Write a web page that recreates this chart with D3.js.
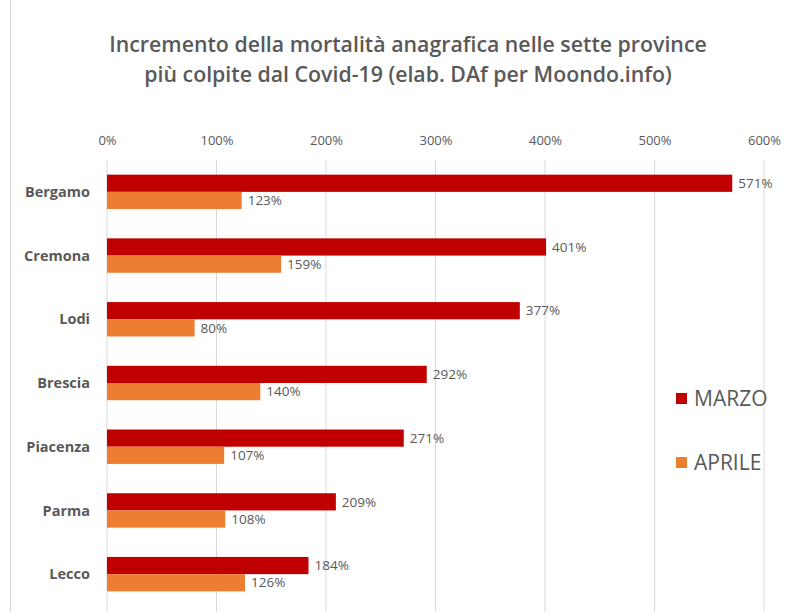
<!DOCTYPE html>
<html>
<head>
<meta charset="utf-8">
<script src="https://cdn.jsdelivr.net/npm/d3@7"></script>
<style>
  body { margin: 0; background: #fff; }
  text { font-family: "Open Sans", "Liberation Sans", sans-serif; fill: #595959; }
</style>
</head>
<body>
<svg id="chart" width="792" height="612"></svg>
<script>
"use strict";

const province = ["Bergamo", "Cremona", "Lodi", "Brescia", "Piacenza", "Parma", "Lecco"];
const marzo = [571, 401, 377, 292, 271, 209, 184];
const aprile = [123, 159, 80, 140, 107, 108, 126];
const tickValues = [0, 100, 200, 300, 400, 500, 600];
const seriesNames = ["MARZO", "APRILE"];
const colors = ["#c00000", "#ed7d31"];

const svg = d3.select("#chart");

// chart frame
svg.append("rect")
    .attr("x", 10.5).attr("y", -5)
    .attr("width", 790).attr("height", 630)
    .attr("fill", "none")
    .attr("stroke", "#d9d9d9");

// title
const title = svg.append("text")
    .attr("text-anchor", "middle")
    .style("font-size", "21.3px")
    .style("font-weight", "600");
title.append("tspan").attr("x", 408).attr("y", 52)
    .text("Incremento della mortalità anagrafica  nelle sette province");
title.append("tspan").attr("x", 408).attr("y", 82)
    .text("più colpite dal Covid-19 (elab. DAf per Moondo.info)");

const x = d3.scaleLinear().domain([0, 600]).range([107, 764]);
const y = d3.scaleBand().domain(province).range([160, 606]).paddingInner(0.46).paddingOuter(0.23);

// gridlines
svg.append("g")
    .selectAll("line")
    .data(tickValues)
    .join("line")
    .attr("x1", d => x(d)).attr("x2", d => x(d))
    .attr("y1", 160).attr("y2", 612)
    .attr("stroke", "#d9d9d9");

// top axis labels
const axis = svg.append("g")
    .attr("transform", "translate(0,145)")
    .call(d3.axisTop(x).tickValues(tickValues).tickFormat(d => d + "%").tickSize(0).tickPadding(0));
axis.select(".domain").remove();
axis.selectAll("text")
    .style("font-size", "13px")
    .attr("fill", "#595959");

const sub = d3.scaleBand().domain(seriesNames).range([0, y.bandwidth()]);

const rows = province.map((p, i) => ({ p, vals: [marzo[i], aprile[i]] }));

const groups = svg.append("g")
    .selectAll("g")
    .data(rows)
    .join("g")
    .attr("transform", d => `translate(0,${y(d.p)})`);

groups.selectAll("rect")
    .data(d => d.vals.map((v, k) => ({ v, k })))
    .join("rect")
    .attr("x", x(0))
    .attr("y", d => sub(seriesNames[d.k]))
    .attr("width", d => x(d.v) - x(0))
    .attr("height", sub.bandwidth())
    .attr("fill", d => colors[d.k]);

groups.selectAll("text.val")
    .data(d => d.vals.map((v, k) => ({ v, k })))
    .join("text")
    .attr("class", "val")
    .attr("x", d => x(d.v) + 6)
    .attr("y", d => sub(seriesNames[d.k]) + sub.bandwidth() / 2)
    .attr("dy", "0.35em")
    .style("font-size", "13.5px")
    .text(d => d.v + "%");

// category labels
svg.append("g")
    .selectAll("text")
    .data(province)
    .join("text")
    .attr("x", 90)
    .attr("y", d => y(d) + y.bandwidth() / 2)
    .attr("dy", "0.35em")
    .attr("text-anchor", "end")
    .style("font-size", "14.5px")
    .style("font-weight", "bold")
    .text(d => d);

// legend
const legend = svg.append("g")
    .selectAll("g")
    .data(seriesNames)
    .join("g")
    .attr("transform", (d, i) => `translate(676,${399 + i * 64})`);
legend.append("rect")
    .attr("x", 0).attr("y", -6)
    .attr("width", 11).attr("height", 11)
    .attr("fill", (d, i) => colors[i]);
legend.append("text")
    .attr("x", 18).attr("y", 0)
    .attr("dy", "0.35em")
    .style("font-size", "21px")
    .text(d => d);
</script>
</body>
</html>
